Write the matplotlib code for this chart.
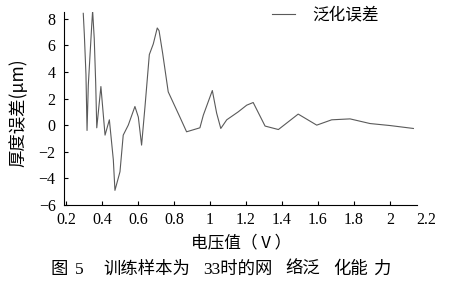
import matplotlib
matplotlib.use("Agg")
import matplotlib.pyplot as plt

# Data
voltage = [0.296, 0.302, 0.311, 0.317, 0.324, 0.343, 0.348, 0.357, 0.365, 0.371,
           0.394, 0.417, 0.441, 0.463, 0.472, 0.500, 0.518, 0.546, 0.583, 0.602,
           0.620, 0.639, 0.663, 0.685, 0.707, 0.717, 0.737, 0.768, 0.833, 0.870,
           0.944, 0.963, 1.013, 1.037, 1.060, 1.093, 1.157, 1.204, 1.240, 1.306,
           1.380, 1.490, 1.593, 1.676, 1.778, 1.889, 2.000, 2.130]
error = [8.4, 6.8, 3.8, -0.4, 3.0, 7.5, 8.6, 6.5, 3.2, -0.2,
         2.9, -0.75, 0.4, -2.6, -4.9, -3.5, -0.75, 0.0, 1.4, 0.6,
         -1.5, 1.4, 5.3, 6.1, 7.3, 7.1, 5.4, 2.5, 0.6, -0.5,
         -0.2, 0.75, 2.6, 0.9, -0.25, 0.4, 1.0, 1.5, 1.7, -0.07,
         -0.33, 0.83, 0.0, 0.4, 0.47, 0.12, -0.03, -0.25]
xticks = [0.2, 0.4, 0.6, 0.8, 1.0, 1.2, 1.4, 1.6, 1.8, 2.0, 2.2]
xticklabels = ["0.2", "0.4", "0.6", "0.8", "1", "1.2", "1.4", "1.6", "1.8", "2", "2.2"]
yticks = [-6, -4, -2, 0, 2, 4, 6, 8]
yticklabels = ["\u22126", "\u22124", "\u22122", "0", "2", "4", "6", "8"]
series_name = "泛化误差"
xlabel = "电压值（ V ）"
ylabel = "厚度误差(μm)"
caption_parts = ["图", "5", "训练样本为", "33时的网", "络泛", "化能", "力"]
caption_px = [50, 75, 103, 203, 285, 333, 373]

plt.rcParams["font.family"] = ["Liberation Serif", "Noto Sans CJK SC", "DejaVu Sans"]
mixed = ["Liberation Serif", "Noto Sans CJK SC", "DejaVu Sans"]
cjk = ["Noto Sans CJK SC", "DejaVu Sans"]

fig = plt.figure(figsize=(4.5, 2.9), dpi=100)
W, H = 450, 290
x0, x1 = 64, 426
y0, y1 = 12, 205
ax = fig.add_axes([x0 / W, 1 - y1 / H, (x1 - x0) / W, (y1 - y0) / H])

line, = ax.plot(voltage, error, color="#5a5a5a", linewidth=0.8, label=series_name)

ax.set_xlim(0.189, 2.2)
ax.set_ylim(-6, 8.5)
ax.spines["top"].set_visible(False)
ax.spines["right"].set_visible(False)
ax.spines["bottom"].set_bounds(0.189, 2.15)
for s in ("left", "bottom"):
    ax.spines[s].set_linewidth(0.8)

ax.set_xticks(xticks)
ax.set_xticklabels(xticklabels, fontsize=11.5)
ax.set_yticks(yticks)
ax.set_yticklabels(yticklabels, fontsize=11.5)
ax.tick_params(axis="both", direction="in", length=3, width=0.8)
ax.tick_params(axis="x", pad=5)
ax.tick_params(axis="y", pad=6)
ax.xaxis.get_major_ticks()[-1].tick1line.set_visible(False)

fig.text(241 / W, 1 - 243 / H, xlabel, ha="center", va="center",
         fontfamily=cjk, fontsize=12)
fig.text(18 / W, 1 - 113 / H, ylabel, ha="center", va="center", rotation=90,
         fontfamily=cjk, fontsize=12.5)
for part, px in zip(caption_parts, caption_px):
    fig.text(px / W, 1 - 270 / H, part, ha="left", va="center",
             fontfamily=mixed, fontsize=12.5)

leg = ax.legend(handles=[line], loc="center left",
                bbox_to_anchor=(272 / W, 1 - 15 / H), bbox_transform=fig.transFigure,
                frameon=False, borderpad=0, borderaxespad=0,
                handlelength=1.4, handletextpad=1.0,
                prop={"family": cjk, "size": 12})

fig.savefig("out.png", dpi=100)
